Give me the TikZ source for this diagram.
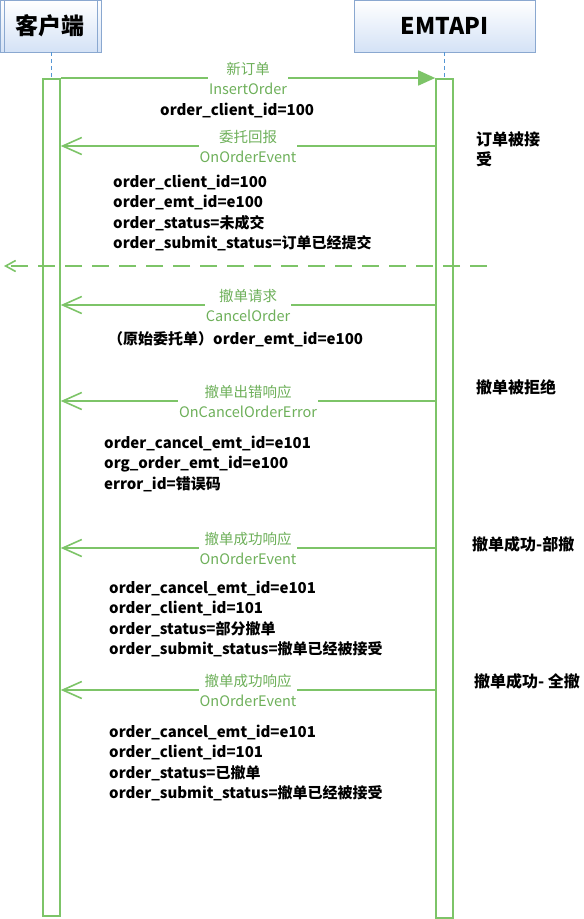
\documentclass[tikz,border=0pt]{standalone}
\usepackage{fontspec}
\setmainfont{Noto Sans CJK SC}
\usetikzlibrary{arrows.meta}

\definecolor{msggreen}{RGB}{125,196,104}
\definecolor{lblgreen}{RGB}{110,176,90}
\definecolor{boxblue}{RGB}{212,226,246}
\definecolor{boxedge}{RGB}{138,168,208}
\definecolor{lifeblue}{RGB}{84,150,212}

\tikzset{
  hdr/.style={draw=boxedge, line width=0.8pt, top color=white, bottom color=boxblue,
    font=\fontsize{23}{26}\selectfont\bfseries},
  bar/.style={draw=msggreen, line width=1.6pt, fill=white, minimum width=17pt},
  life/.style={lifeblue, line width=1.2pt, dash pattern=on 4pt off 3pt},
  msg/.style={msggreen, line width=1.6pt},
  fwd/.style={msg, -{Triangle[length=17pt,width=15pt]}},
  back/.style={msg, -{Straight Barb[length=19pt,width=17pt]}},
  lbl/.style={fill=white, text=lblgreen, align=center, inner xsep=1pt, inner ysep=0pt,
    font=\fontsize{14.5}{20}\selectfont},
  info/.style={anchor=north west, align=left, inner sep=0pt,
    font=\fontsize{15}{20.3}\selectfont\bfseries},
  note/.style={anchor=north west, align=left, inner sep=0pt,
    font=\fontsize{16}{20}\selectfont\bfseries}
}

\begin{document}
\begin{tikzpicture}[x=1pt,y=-1pt]
      \useasboundingbox (0,0) rectangle (584,919);

      % lanes
      \node[hdr, minimum width=101pt, minimum height=52pt] (client) at (50.5,26) {客户端};
      \draw[boxedge, line width=0.8pt] (4,0) -- (4,52) (97,0) -- (97,52);
      \node[hdr, minimum width=181pt, minimum height=52pt] (api) at (444.5,26) {EMTAPI};
      \node[bar, minimum height=837pt, anchor=north] (cbar) at (51.5,78) {};
      \node[bar, minimum height=839pt, anchor=north] (abar) at (444.5,78) {};
      \draw[life] (client.south -| cbar) -- (cbar.north);
      \draw[life] (api.south -| abar) -- (abar.north);

      % messages
      \draw[fwd] (cbar.north east) -- node[lbl] {新订单\\InsertOrder} (abar.north west);
      \node[info, anchor=west] (m1) at (160,110) {order\_client\_id=100};

      \draw[back] (abar.west |- 0,146) -- node[lbl] {委托回报\\OnOrderEvent} (cbar.east |- 0,146);
      \node[info] (m2) at (113,175) {order\_client\_id=100\\order\_emt\_id=e100\\order\_status=未成交\\order\_submit\_status=订单已经提交};
      \node[note] (n2) at (476,132) {订单被接\\受};

      \coordinate (dashR) at (487,266);
      \coordinate (dashL) at (4,266);
      \draw[msg, dash pattern=on 17pt off 10pt, -{Straight Barb[length=10pt,width=11pt]}] (dashR) -- (dashL);

      \draw[back] (abar.west |- 0,305) -- node[lbl] {撤单请求\\CancelOrder} (cbar.east |- 0,305);
      \node[info, anchor=west] (m3) at (108,339) {（原始委托单）order\_emt\_id=e100};

      \draw[back] (abar.west |- 0,401) -- node[lbl] {撤单出错响应\\OnCancelOrderError} (cbar.east |- 0,401);
      \node[info] (m4) at (104,436) {order\_cancel\_emt\_id=e101\\org\_order\_emt\_id=e100\\error\_id=错误码};
      \node[note] (n4) at (476,379) {撤单被拒绝};

      \draw[back] (abar.west |- 0,548) -- node[lbl] {撤单成功响应\\OnOrderEvent} (cbar.east |- 0,548);
      \node[info] (m5) at (109,581) {order\_cancel\_emt\_id=e101\\order\_client\_id=101\\order\_status=部分撤单\\order\_submit\_status=撤单已经被接受};
      \node[note] (n5) at (472,536) {撤单成功-部撤};

      \draw[back] (abar.west |- 0,690) -- node[lbl] {撤单成功响应\\OnOrderEvent} (cbar.east |- 0,690);
      \node[info] (m6) at (109,725) {order\_cancel\_emt\_id=e101\\order\_client\_id=101\\order\_status=已撤单\\order\_submit\_status=撤单已经被接受};
      \node[note] (n6) at (474,673) {撤单成功- 全撤};
\end{tikzpicture}
\end{document}
